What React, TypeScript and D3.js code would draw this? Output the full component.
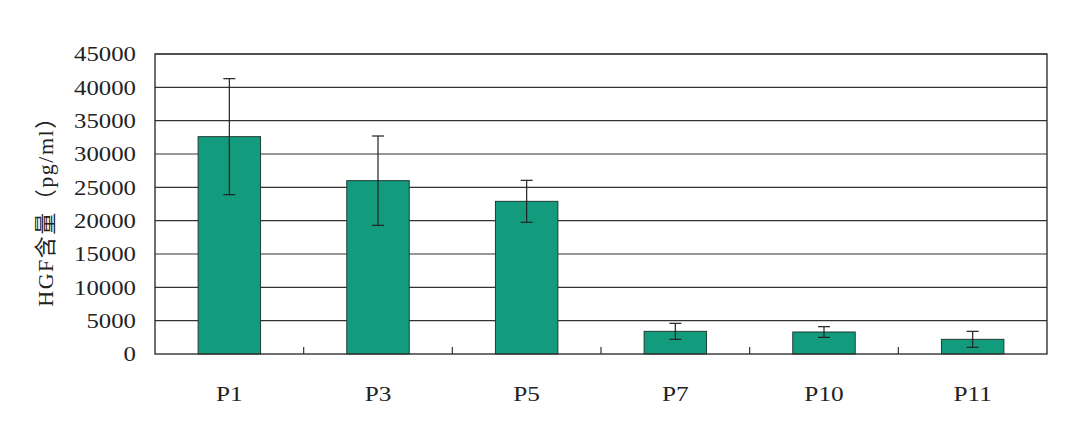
import React from "react";
import * as d3 from "d3";

const categories = ["P1", "P3", "P5", "P7", "P10", "P11"];
const values = [32600, 26000, 22900, 3400, 3300, 2200];
const errors = [8700, 6700, 3150, 1200, 800, 1200];
const yTicks = [0, 5000, 10000, 15000, 20000, 25000, 30000, 35000, 40000, 45000];
const yTitle = "HGF含量（pg/ml）";

const W = 1080, H = 441;
const M = { left: 155, right: 1047, top: 54, bottom: 354 };

export default function App() {
  const x = d3.scaleBand<string>().domain(categories).range([M.left, M.right]).paddingInner(0.58).paddingOuter(0.29);
  const band = d3.scaleBand<string>().domain(categories).range([M.left, M.right]);
  const y = d3.scaleLinear().domain([0, 45000]).range([M.bottom, M.top]);
  const font = "'Liberation Serif', 'Noto Sans CJK SC', serif";
  const bw = x.bandwidth();
  return (
    <svg width={W} height={H} style={{ position: "absolute", left: 0, top: 0, background: "#fff" }}>
      <rect x={0} y={0} width={W} height={H} fill="#fff" />
      {yTicks.slice(1).map((t) => (
        <line key={t} x1={M.left} x2={M.right} y1={y(t)} y2={y(t)} stroke="#333" strokeWidth={1.2} />
      ))}
      {categories.map((c, i) => {
        const cx = (x(c) as number) + bw / 2;
        return (
          <g key={c}>
            <rect x={x(c)} y={y(values[i])} width={bw} height={y(0) - y(values[i])} fill="#139b7e" stroke="#1f3b33" strokeWidth={1} />
            <line x1={cx} x2={cx} y1={y(values[i] + errors[i])} y2={y(values[i] - errors[i])} stroke="#222" strokeWidth={1.2} />
            <line x1={cx - 6} x2={cx + 6} y1={y(values[i] + errors[i])} y2={y(values[i] + errors[i])} stroke="#222" strokeWidth={1.2} />
            <line x1={cx - 6} x2={cx + 6} y1={y(values[i] - errors[i])} y2={y(values[i] - errors[i])} stroke="#222" strokeWidth={1.2} />
            <text transform={`translate(${(band(c) as number) + band.bandwidth() / 2},401) scale(1.15,1)`} textAnchor="middle" fontFamily={font} fontSize={22} fill="#222">{c}</text>
          </g>
        );
      })}
      {categories.slice(1).map((c) => (
        <line key={"t" + c} x1={band(c)} x2={band(c)} y1={M.bottom} y2={M.bottom - 7} stroke="#333" strokeWidth={1.2} />
      ))}
      <rect x={M.left} y={M.top} width={M.right - M.left} height={M.bottom - M.top} fill="none" stroke="#333" strokeWidth={1.4} />
      {yTicks.map((t) => (
        <text key={t} transform={`translate(136,${y(t)}) scale(1.18,1)`} dy="0.35em" textAnchor="end" fontFamily={font} fontSize={21} fill="#222">{t}</text>
      ))}
      <text transform={`translate(53, ${(M.top + M.bottom) / 2 + 2}) rotate(-90)`} textAnchor="middle" fontFamily={font} fontSize={22} letterSpacing={1.5} fill="#222">{yTitle}</text>
    </svg>
  );
}
